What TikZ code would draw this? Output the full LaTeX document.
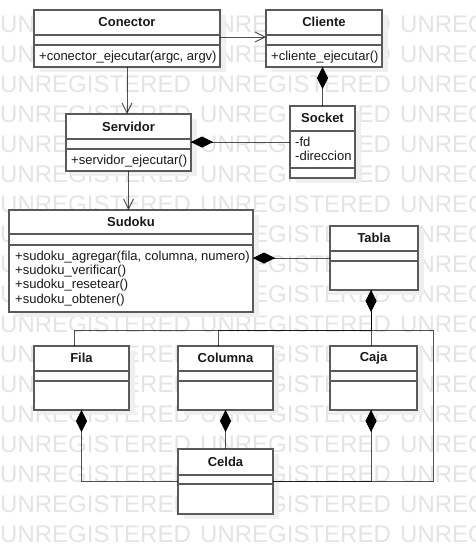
\documentclass[tikz,border=0pt]{standalone}
\usepackage{fontspec}
\setmainfont{Liberation Sans}
\usetikzlibrary{arrows.meta}
\definecolor{boxline}{HTML}{5A5A5A}
\definecolor{wmark}{HTML}{E4E4E4}
\definecolor{shadowc}{HTML}{EFEFEF}
\tikzset{
  classbox/.style={draw=boxline, line width=1.2pt, fill=white, inner sep=0pt, outer sep=0pt, anchor=north west},
  divider/.style={draw=boxline, line width=1.2pt},
  ctitle/.style={font=\fontsize{13}{15}\selectfont\bfseries, inner sep=0pt, text=black!90},
  member/.style={font=\fontsize{13}{15}\selectfont, inner sep=0pt, anchor=west, text=black!90},
  conn/.style={draw=black, draw opacity=0.68, line width=1pt},
  dep/.style={conn, -{Straight Barb[length=10pt,width=10pt]}},
  diam/.style={draw=black, line width=0.6pt, {Diamond[length=22pt,width=11pt,fill=black]}-},
  wm/.style={font=\fontsize{24}{24}\selectfont, text=wmark, inner sep=0pt, anchor=base west},
}
% #1 name, #2 x1, #3 y1, #4 x2, #5 y2, #6 div1, #7 div2
\newcommand{\umlbox}[7]{%
  \fill[shadowc] (#2+6,#3+5) rectangle (#4+6,#5+5);
  \node[classbox, minimum width={(#4-#2)*1pt}, minimum height={(#5-#3)*1pt}] (#1) at (#2,#3) {};
  \draw[divider] (#2,#6) -- (#4,#6);
  \draw[divider] (#2,#7) -- (#4,#7);
}
\begin{document}
\begin{tikzpicture}[x=1pt,y=-1pt]
\useasboundingbox (0,0) rectangle (475,554);
\fill[white] (0,0) rectangle (475,554);
% watermark
\begin{scope}
\clip (0,0) rectangle (475,554);
\foreach \k in {0,...,17}{
  \foreach \j/\w in {0/UNREGISTERED,1/UNREGISTERED,2/UNREG}{
    \node[wm] (wm-\k-\j) at (200*\j, 32+30*\k) {\w};
  }
}
\end{scope}

% classes
\umlbox{conector}{34}{10}{220}{67}{35}{45}
\node[ctitle] (conector-t) at (127,22) {Conector};
\node[member] (conector-m) at (39,57) {+conector\_ejecutar(argc, argv)};

\umlbox{cliente}{266}{10}{382}{67}{35}{45}
\node[ctitle] (cliente-t) at (324,22) {Cliente};
\node[member] (cliente-m) at (271,57) {+cliente\_ejecutar()};

\umlbox{servidor}{66}{114}{191}{171}{139}{149}
\node[ctitle] (servidor-t) at (128.5,127) {Servidor};
\node[member] (servidor-m) at (71,161) {+servidor\_ejecutar()};

\umlbox{socket}{290}{106}{355}{178}{131}{168}
\node[ctitle] (socket-t) at (322.5,118) {Socket};
\node[member] (socket-a1) at (295,142) {-fd};
\node[member] (socket-a2) at (295,156) {-direccion};

\umlbox{sudoku}{9}{210}{253}{312}{234}{245}
\node[ctitle] (sudoku-t) at (131,222) {Sudoku};
\node[member] (sudoku-m1) at (15,257) {+sudoku\_agregar(fila, columna, numero)};
\node[member] (sudoku-m2) at (15,271) {+sudoku\_verificar()};
\node[member] (sudoku-m3) at (15,285.5) {+sudoku\_resetear()};
\node[member] (sudoku-m4) at (15,300) {+sudoku\_obtener()};

\umlbox{tabla}{330}{226}{418}{290}{251}{261}
\node[ctitle] (tabla-t) at (374,238) {Tabla};

\umlbox{fila}{34}{346}{129}{410}{371}{381}
\node[ctitle] (fila-t) at (81.5,358) {Fila};

\umlbox{columna}{178}{346}{273}{410}{371}{381}
\node[ctitle] (columna-t) at (225.5,358) {Columna};

\umlbox{caja}{330}{346}{417}{410}{371}{381}
\node[ctitle] (caja-t) at (373.5,358) {Caja};

\umlbox{celda}{178}{449}{273}{514}{475}{484}
\node[ctitle] (celda-t) at (225.5,462) {Celda};

% junctions
\coordinate (jt) at (371,330);
\coordinate (jf) at (74,330);
\coordinate (jc) at (218,330);
\coordinate (jr) at (433,330);

% dependencies
\draw[dep] (conector.south) -- (conector.south |- servidor.north);
\draw[dep] (servidor.south) -- (servidor.south |- sudoku.north);
\draw[dep] ([yshift=1.5pt]conector.east) -- ([yshift=1.5pt]conector.east -| cliente.west);

% compositions
\draw[conn] (socket.west) -- (socket.west -| servidor.east);
\draw[diam] (socket.west -| servidor.east) -- ++(22,0);

\draw[conn] (socket.north) -- (socket.north |- cliente.south);
\draw[diam] (socket.north |- cliente.south) -- ++(0,22);

\draw[conn] (tabla.west) -- (tabla.west -| sudoku.east);
\draw[diam] (tabla.west -| sudoku.east) -- ++(22,0);

\draw[conn] (tabla.south -| jt) -- (jt) -- (jf) -- (jf |- fila.north);
\draw[conn] (tabla.south -| jt) -- (jt) -- (jc) -- (jc |- columna.north);
\draw[conn] (tabla.south -| jt) -- (jt |- caja.north);
\draw[conn] (tabla.south -| jt) -- (jt) -- (jr) -- (jr |- celda.east) -- (celda.east);
\draw[diam] (tabla.south -| jt) -- ++(0,22);

\draw[conn] (fila.south) -- (fila.south |- celda.west) -- (celda.west);
\draw[diam] (fila.south) -- ++(0,22);

\draw[conn] (columna.south) -- (celda.north);
\draw[diam] (columna.south) -- ++(0,22);

\draw[conn] (jt |- caja.south) -- (jt |- celda.east) -- (celda.east);
\draw[diam] (jt |- caja.south) -- ++(0,22);
\end{tikzpicture}
\end{document}
